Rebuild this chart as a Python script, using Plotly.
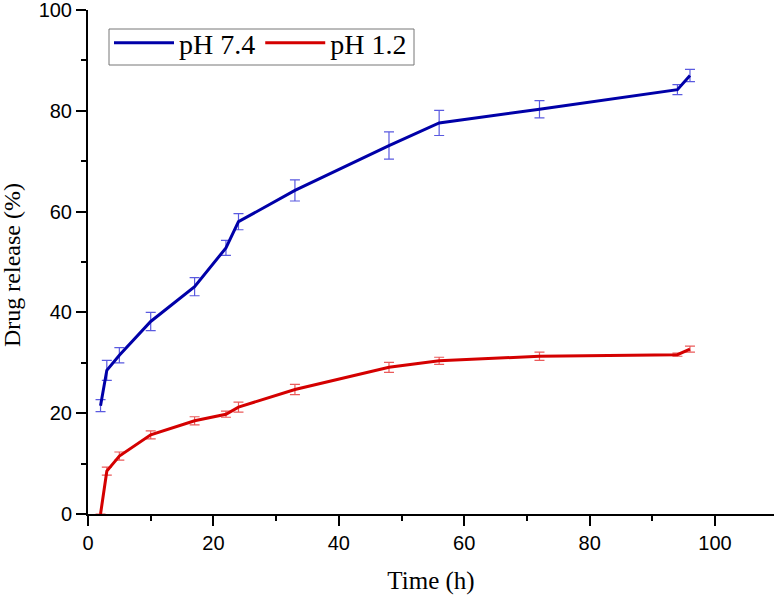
import plotly.graph_objects as go

time_h = [2, 3, 5, 10, 17, 22, 24, 33, 48, 56, 72, 94, 96]
ph74 = [21.5, 28.5, 31.5, 38.2, 45.1, 52.8, 58.0, 64.2, 73.1, 77.6, 80.3, 84.2, 87.0]
ph74_err = [1.2, 2.0, 1.5, 1.8, 1.8, 1.5, 1.6, 2.1, 2.7, 2.5, 1.7, 1.0, 1.2]
ph12 = [0.0, 8.5, 11.5, 15.7, 18.5, 19.8, 21.2, 24.7, 29.1, 30.4, 31.3, 31.6, 32.7]
ph12_err = [0.0, 0.8, 0.8, 0.8, 0.8, 0.6, 1.0, 1.0, 1.0, 0.7, 0.8, 0.3, 0.6]
x_ticks = [0, 20, 40, 60, 80, 100]
y_ticks = [0, 20, 40, 60, 80, 100]
minor_ticks = [10, 30, 50, 70, 90]

fig = go.Figure()
fig.add_trace(go.Scatter(
    x=time_h, y=ph74, mode="lines", name="pH 7.4",
    line=dict(color="#0000A8", width=3),
    error_y=dict(type="data", array=ph74_err, visible=True,
                 color="#5a5ae0", thickness=1.2, width=5),
))
fig.add_trace(go.Scatter(
    x=time_h, y=ph12, mode="lines", name="pH 1.2",
    line=dict(color="#D40000", width=3),
    error_y=dict(type="data", array=ph12_err, visible=True,
                 color="#ea5a5a", thickness=1.2, width=5),
))

tickfont = dict(family="Liberation Sans, Arial, sans-serif", size=20, color="black")
serif = "Liberation Serif, Times New Roman, serif"

L, T, W, H = 88, 10, 686, 504

def px(xp):
    return (xp - L) / W

def py(yp):
    return (T + H - yp) / H

fig.update_layout(
    width=774, height=595,
    margin=dict(l=L, r=0, t=T, b=595 - T - H),
    paper_bgcolor="white", plot_bgcolor="white",
    showlegend=True,
    legend=dict(
        orientation="h", x=px(109), y=py(18), xanchor="left", yanchor="top",
        borderwidth=0, bgcolor="rgba(0,0,0,0)",
        font=dict(family=serif, size=28, color="black"),
        itemwidth=60, tracegroupgap=0,
    ),
    shapes=[dict(type="rect", xref="paper", yref="paper",
                 x0=px(109), x1=px(414), y0=py(65), y1=py(29),
                 line=dict(color="#777777", width=1), layer="below")],
    annotations=[dict(text="Drug release (%)", xref="paper", yref="paper",
                      x=px(12), y=py(265), xanchor="center", yanchor="middle",
                      textangle=-90, showarrow=False,
                      font=dict(family=serif, size=24, color="black"))],
    xaxis=dict(
        range=[0, 109.4], tickmode="array", tickvals=x_ticks,
        showgrid=False, zeroline=False, showline=True, linecolor="black", linewidth=2,
        ticks="outside", ticklen=10, tickwidth=2, tickcolor="black",
        minor=dict(ticks="outside", ticklen=5, tickwidth=2, tickcolor="black",
                   tickvals=minor_ticks),
        tickfont=tickfont, ticklabeloverflow="allow",
        title=dict(text="Time (h)", font=dict(family=serif, size=25, color="black"), standoff=22),
    ),
    yaxis=dict(
        range=[0, 100], tickmode="array", tickvals=y_ticks,
        showgrid=False, zeroline=False, showline=True, linecolor="black", linewidth=2,
        ticks="outside", ticklen=10, tickwidth=2, tickcolor="black",
        minor=dict(ticks="outside", ticklen=5, tickwidth=2, tickcolor="black",
                   tickvals=minor_ticks),
        tickfont=tickfont, ticklabeloverflow="allow",
    ),
)

fig.write_html("out.html")
